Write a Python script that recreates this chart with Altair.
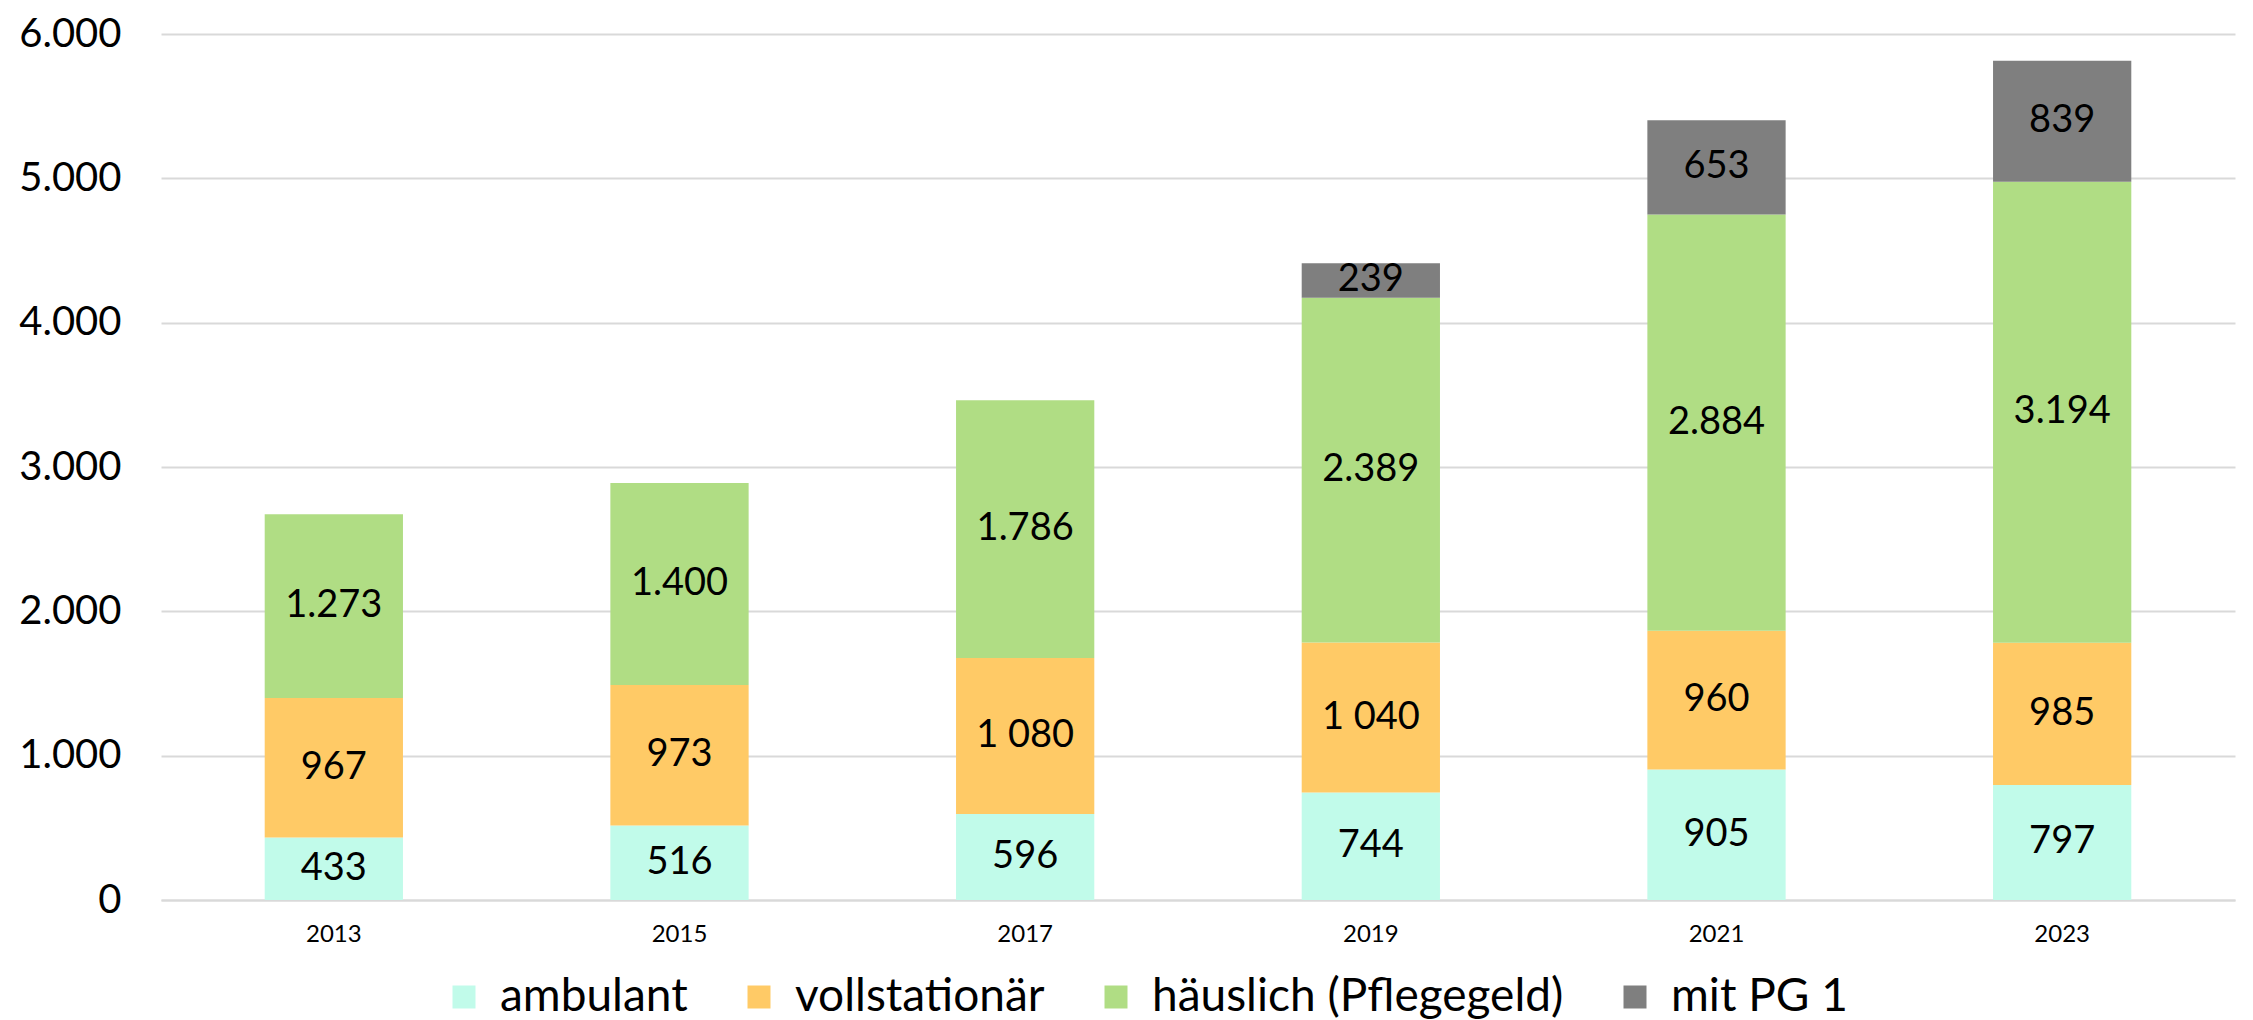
import altair as alt
import pandas as pd

years = ["2013", "2015", "2017", "2019", "2021", "2023"]
series = ["ambulant", "vollstationär", "häuslich (Pflegegeld)", "mit PG 1"]
colors = ["#C1FBEA", "#FFCA66", "#B0DD84", "#7F7F7F"]
ambulant = [433, 516, 596, 744, 905, 797]
vollstationaer = [967, 973, 1080, 1040, 960, 985]
haeuslich = [1273, 1400, 1786, 2389, 2884, 3194]
pg1 = [0, 0, 0, 239, 653, 839]
lab_amb = ["433", "516", "596", "744", "905", "797"]
lab_voll = ["967", "973", "1 080", "1 040", "960", "985"]
lab_haus = ["1.273", "1.400", "1.786", "2.389", "2.884", "3.194"]
lab_pg1 = ["", "", "", "239", "653", "839"]

rows = []
for si, (name, vals, labs) in enumerate(zip(series, [ambulant, vollstationaer, haeuslich, pg1],
                                             [lab_amb, lab_voll, lab_haus, lab_pg1])):
    for y, v, l in zip(years, vals, labs):
        if v > 0:
            rows.append({"year": y, "series": name, "value": v, "label": l, "idx": si})
df = pd.DataFrame(rows)

FONT = "Lato"

base = alt.Chart(df).transform_stack(
    stack="value", as_=["y0", "y1"], groupby=["year"], sort=[alt.SortField("idx", order="ascending")]
).transform_calculate(mid="(datum.y0 + datum.y1) / 2")

xenc = alt.X("year:N", title=None, sort=years,
             scale=alt.Scale(paddingInner=0.6, paddingOuter=0.3),
             axis=alt.Axis(labelAngle=0, labelFontSize=24, labelColor="#000000", labelFont=FONT,
                           ticks=False, domain=True, domainColor="#D9D9D9", domainWidth=2,
                           labelPadding=22))

bars = base.mark_bar().encode(
    x=xenc,
    y=alt.Y("y0:Q", title=None, scale=alt.Scale(domain=[0, 6000]),
            axis=alt.Axis(values=[0, 1000, 2000, 3000, 4000, 5000, 6000],
                          labelExpr="replace(format(datum.value, ',d'), ',', '.')",
                          labelFontSize=40, labelColor="#000000", labelFont=FONT,
                          ticks=False, domain=False, gridColor="#D9D9D9", gridWidth=2,
                          labelPadding=40)),
    y2="y1:Q",
    color=alt.Color("series:N", sort=series,
                    scale=alt.Scale(domain=series, range=colors),
                    legend=alt.Legend(title=None, orient="none", direction="horizontal",
                                      legendX=280, legendY=940, symbolType="square",
                                      symbolSize=529, symbolStrokeWidth=0, labelFontSize=46,
                                      labelFont=FONT, labelColor="#000000", labelOffset=13,
                                      columnPadding=48, labelLimit=700)),
)

texts = base.mark_text(fontSize=38, font=FONT, color="#000000").encode(
    x=alt.X("year:N", sort=years),
    y=alt.Y("mid:Q"),
    text="label:N",
)

chart = alt.layer(bars, texts).properties(
    width=2074, height=866,
    padding={"top": 6, "left": 10, "right": 5, "bottom": 0},
).configure_view(stroke=None)

chart.save("out.html", embed_options={"renderer": "svg", "actions": False})
